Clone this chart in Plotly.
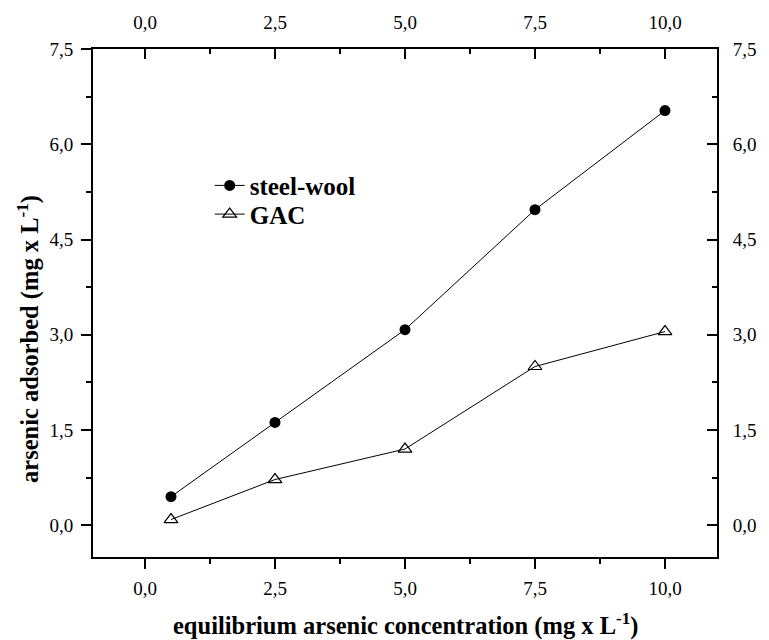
import plotly.graph_objects as go

concentration = [0.5, 2.5, 5.0, 7.5, 10.0]
steel_wool = [0.45, 1.62, 3.08, 4.97, 6.53]
gac = [0.09, 0.72, 1.20, 2.50, 3.05]

x_ticks = [0.0, 2.5, 5.0, 7.5, 10.0]
y_ticks = [0.0, 1.5, 3.0, 4.5, 6.0, 7.5]

FONT = "Liberation Serif"

fig = go.Figure()
fig.add_trace(go.Scatter(
    x=concentration, y=steel_wool, name="<b>steel-wool</b>", mode="lines+markers",
    line=dict(color="black", width=1), legend="legend",
    marker=dict(symbol="circle", size=11, color="black"),
))
fig.add_trace(go.Scatter(
    x=concentration, y=gac, name="<b>GAC</b>", mode="lines+markers",
    line=dict(color="black", width=1), legend="legend2",
    marker=dict(symbol="triangle-up-open", size=12, color="black", line=dict(width=1.2)),
))
# invisible trace to activate the top/right axes
fig.add_trace(go.Scatter(
    x=concentration, y=steel_wool, xaxis="x2", yaxis="y2", mode="markers",
    marker=dict(opacity=0), showlegend=False, hoverinfo="skip",
))

tickfont = dict(family=FONT, size=19, color="black")
common = dict(showline=True, linewidth=2, linecolor="black", showgrid=False,
              zeroline=False, tickformat=".1f", tickfont=tickfont,
              tickwidth=2, ticklen=10, tickcolor="black")

def minor(dt, side):
    return dict(dtick=dt, tick0=0, ticks=side, ticklen=5, tickwidth=2, tickcolor="black")

legend_common = dict(x=0.187, xanchor="left", yanchor="middle", bgcolor="rgba(0,0,0,0)",
                     font=dict(family=FONT, size=25, color="black"))

fig.update_layout(
    width=769, height=640,
    margin=dict(l=93, r=39, t=44, b=83),
    paper_bgcolor="white", plot_bgcolor="white",
    separators=",.",
    font=dict(family=FONT, color="black"),
    xaxis=dict(range=[-1, 11], tickvals=x_ticks, ticks="outside", minor=minor(1.25, "outside"),
               ticklabelstandoff=3, **common),
    xaxis2=dict(range=[-1, 11], tickvals=x_ticks, ticks="inside", overlaying="x", side="top",
                minor=minor(1.25, "inside"), ticklabelstandoff=10, **common),
    yaxis=dict(range=[-0.5, 7.5], tickvals=y_ticks, ticks="outside", minor=minor(0.75, "outside"),
               ticklabelstandoff=4, **common),
    yaxis2=dict(range=[-0.5, 7.5], tickvals=y_ticks, ticks="inside", overlaying="y", side="right",
                minor=minor(0.75, "inside"), ticklabelstandoff=10, **common),
    legend=dict(y=0.731, **legend_common),
    legend2=dict(y=0.6745, **legend_common),
    showlegend=True,
    annotations=[
        dict(text="<b>equilibrium arsenic concentration (mg x L<sup>-1</sup>)</b>",
             xref="paper", yref="paper", x=0.5, y=-0.132, xanchor="center", yanchor="middle",
             showarrow=False, font=dict(family=FONT, size=24.5, color="black")),
        dict(text="<b>arsenic adsorbed (mg x L<sup>-1</sup>)</b>",
             xref="paper", yref="paper", x=-0.1036, y=0.43, xanchor="center", yanchor="middle",
             textangle=-90, showarrow=False, font=dict(family=FONT, size=24.5, color="black")),
    ],
)

fig.write_html("out.html", config={"displayModeBar": False},
               post_script="document.body.style.margin='0px';")
